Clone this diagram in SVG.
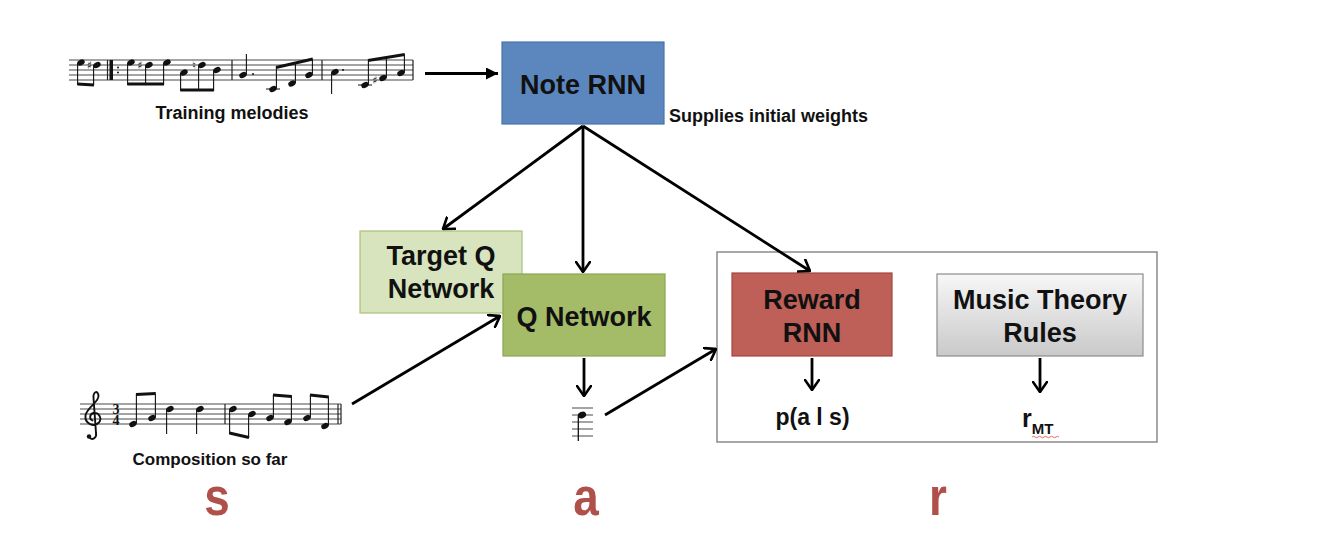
<svg xmlns="http://www.w3.org/2000/svg" width="1342" height="554" viewBox="0 0 1342 554">
  <defs>
    <style>
      .lbl { font-family: "Liberation Sans", Arial, sans-serif; font-weight: bold; fill: #111; }
      .node-text { font-size: 27px; text-anchor: middle; }
      .cap { font-size: 18px; }
      .big { font-family: "Liberation Sans", Arial, sans-serif; font-weight: bold; font-size: 54px; fill: #b0504a; text-anchor: middle; }
      .acc { font-family: "DejaVu Sans", sans-serif; font-size: 11px; text-anchor: middle; fill: #111; }
      .staff line { stroke: #333; stroke-width: 0.9; }
      .stem { stroke: #111; stroke-width: 1.1; }
      .beam { stroke: #111; stroke-width: 3; }
      .bar { stroke: #222; stroke-width: 1.2; }
      .conn { stroke: #000; stroke-width: 2.8; fill: none; marker-end: url(#chev); }
    </style>
    <marker id="chev" viewBox="0 0 12 16" refX="11" refY="8" markerWidth="12" markerHeight="16" markerUnits="userSpaceOnUse" orient="auto">
      <path d="M1,1 L11,8 L1,15" fill="none" stroke="#000" stroke-width="2.6" stroke-linecap="round" stroke-linejoin="miter"/>
    </marker>
    <marker id="tri" viewBox="0 0 12 12" refX="12" refY="6" markerWidth="12" markerHeight="12" markerUnits="userSpaceOnUse" orient="auto">
      <path d="M0,0 L12,6 L0,12 Z" fill="#000"/>
    </marker>
    <ellipse id="head" cx="0" cy="0" rx="3.9" ry="2.8" transform="rotate(-25)" fill="#111"/>
    <linearGradient id="grey" x1="0" y1="0" x2="0" y2="1">
      <stop offset="0" stop-color="#f7f7f7"/>
      <stop offset="1" stop-color="#c9c9c9"/>
    </linearGradient>
  </defs>

  <rect width="1342" height="554" fill="#fff"/>

  <!-- training melody excerpt -->
  <g id="training-melodies">
    <g class="staff">
      <line x1="69" y1="60" x2="413" y2="60"/>
      <line x1="69" y1="65" x2="413" y2="65"/>
      <line x1="69" y1="70" x2="413" y2="70"/>
      <line x1="69" y1="75" x2="413" y2="75"/>
      <line x1="69" y1="80" x2="413" y2="80"/>
    </g>
    <!-- pickup -->
    <use href="#head" x="81" y="62.5"/>
    <use href="#head" x="97" y="65"/>
    <text class="acc" x="89.5" y="68.5">♯</text>
    <line class="stem" x1="77.6" y1="63" x2="77.6" y2="85"/>
    <line class="stem" x1="93.6" y1="65.5" x2="93.6" y2="85"/>
    <line class="beam" x1="77.4" y1="84" x2="94" y2="85"/>
    <!-- repeat bar -->
    <line class="bar" x1="107.5" y1="60" x2="107.5" y2="80"/>
    <rect x="109.5" y="60" width="3.5" height="20" fill="#111"/>
    <circle cx="118" cy="67.5" r="1" fill="#111"/>
    <circle cx="118" cy="72.5" r="1" fill="#111"/>
    <!-- measure 1 -->
    <use href="#head" x="131" y="62.5"/>
    <use href="#head" x="149" y="65"/>
    <use href="#head" x="167" y="62.5"/>
    <text class="acc" x="140" y="68.5">♯</text>
    <line class="stem" x1="127.6" y1="63" x2="127.6" y2="85"/>
    <line class="stem" x1="145.6" y1="65.5" x2="145.6" y2="85"/>
    <line class="stem" x1="163.6" y1="63" x2="163.6" y2="85"/>
    <line class="beam" x1="127.4" y1="84" x2="164" y2="84"/>
    <use href="#head" x="184" y="72.5"/>
    <use href="#head" x="202" y="65"/>
    <use href="#head" x="217" y="70"/>
    <text class="acc" x="194" y="68.5">♮</text>
    <line class="stem" x1="180.6" y1="73" x2="180.6" y2="91"/>
    <line class="stem" x1="198.6" y1="65.5" x2="198.6" y2="91"/>
    <line class="stem" x1="213.6" y1="70.5" x2="213.6" y2="91"/>
    <line class="beam" x1="180.4" y1="90" x2="214" y2="90"/>
    <line class="bar" x1="232" y1="60" x2="232" y2="80"/>
    <!-- measure 2 -->
    <use href="#head" x="243" y="75"/>
    <line class="stem" x1="246.4" y1="74.5" x2="246.4" y2="54"/>
    <circle cx="253" cy="74" r="1" fill="#111"/>
    <line x1="266" y1="89" x2="280" y2="89" stroke="#111" stroke-width="1"/>
    <use href="#head" x="273" y="89"/>
    <use href="#head" x="292" y="83.5"/>
    <use href="#head" x="309" y="75"/>
    <line class="stem" x1="276.4" y1="88.5" x2="276.4" y2="67"/>
    <line class="stem" x1="295.4" y1="83" x2="295.4" y2="63"/>
    <line class="stem" x1="312.4" y1="74.5" x2="312.4" y2="59"/>
    <line class="beam" x1="276" y1="67.5" x2="312.8" y2="59"/>
    <line class="bar" x1="322" y1="60" x2="322" y2="80"/>
    <!-- measure 3 -->
    <use href="#head" x="335" y="72"/>
    <line class="stem" x1="331.6" y1="72.5" x2="331.6" y2="94"/>
    <circle cx="343" cy="70" r="1" fill="#111"/>
    <line x1="358" y1="85" x2="372" y2="85" stroke="#111" stroke-width="1"/>
    <use href="#head" x="365" y="85"/>
    <use href="#head" x="383" y="78"/>
    <use href="#head" x="401" y="73"/>
    <text class="acc" x="375" y="83.5">♯</text>
    <line class="stem" x1="368.4" y1="84.5" x2="368.4" y2="60"/>
    <line class="stem" x1="386.4" y1="77.5" x2="386.4" y2="57"/>
    <line class="stem" x1="404.4" y1="72.5" x2="404.4" y2="54.5"/>
    <line class="beam" x1="368" y1="60.5" x2="404.8" y2="54.5"/>
    <line class="bar" x1="413" y1="60" x2="413" y2="80"/>
    <text class="lbl cap" x="232" y="119" text-anchor="middle">Training melodies</text>
  </g>

  <!-- composition generated so far -->
  <g id="composition-so-far">
    <g class="staff">
      <line x1="80" y1="404" x2="341" y2="404"/>
      <line x1="80" y1="409" x2="341" y2="409"/>
      <line x1="80" y1="414" x2="341" y2="414"/>
      <line x1="80" y1="419" x2="341" y2="419"/>
      <line x1="80" y1="424" x2="341" y2="424"/>
    </g>
    <!-- treble clef -->
    <path d="M89,437 C92,441 97,438 96,433 L93.5,398 C93,392 97.5,389.5 98.5,395.5 C99.5,402 87,407 85.5,415.5 C84.5,424 94,427.5 99,422.5 C102.5,418 98.5,412 93.5,413 C89.5,414 89,419 92.5,420.5" fill="none" stroke="#111" stroke-width="1.9" stroke-linecap="round"/>
    <circle cx="89" cy="436.5" r="2.2" fill="#111"/>
    <!-- 3/4 time signature -->
    <text font-family="Liberation Serif, serif" font-weight="bold" font-size="14" text-anchor="middle" fill="#111"><tspan x="116" y="413.5">3</tspan><tspan x="116" y="424.5">4</tspan></text>
    <use href="#head" x="133" y="424"/>
    <use href="#head" x="152" y="418"/>
    <line class="stem" x1="136.4" y1="423.5" x2="136.4" y2="394"/>
    <line class="stem" x1="155.4" y1="417.5" x2="155.4" y2="394"/>
    <line class="beam" x1="136" y1="394.5" x2="155.8" y2="393.5"/>
    <use href="#head" x="170" y="409"/>
    <line class="stem" x1="166.6" y1="409.5" x2="166.6" y2="434"/>
    <use href="#head" x="200" y="409"/>
    <line class="stem" x1="196.6" y1="409.5" x2="196.6" y2="434"/>
    <line class="bar" x1="225" y1="404" x2="225" y2="424"/>
    <use href="#head" x="233" y="409"/>
    <use href="#head" x="252" y="414"/>
    <line class="stem" x1="229.6" y1="409.5" x2="229.6" y2="434"/>
    <line class="stem" x1="248.6" y1="414.5" x2="248.6" y2="438"/>
    <line class="beam" x1="229.4" y1="433" x2="249" y2="437.5"/>
    <use href="#head" x="270" y="418"/>
    <use href="#head" x="288" y="422"/>
    <line class="stem" x1="273.4" y1="417.5" x2="273.4" y2="395"/>
    <line class="stem" x1="291.4" y1="421.5" x2="291.4" y2="396"/>
    <line class="beam" x1="273" y1="395" x2="291.8" y2="396.5"/>
    <use href="#head" x="307" y="418"/>
    <use href="#head" x="325" y="426"/>
    <line class="stem" x1="310.4" y1="417.5" x2="310.4" y2="395"/>
    <line class="stem" x1="328.4" y1="425.5" x2="328.4" y2="397"/>
    <line class="beam" x1="310" y1="395" x2="328.8" y2="397"/>
    <line class="bar" x1="338" y1="404" x2="338" y2="424"/>
    <line class="bar" x1="341" y1="404" x2="341" y2="424"/>
    <text class="lbl" x="210" y="465" text-anchor="middle" font-size="17">Composition so far</text>
  </g>

  <!-- chosen action: a single note -->
  <g id="action-note">
    <g class="staff">
      <line x1="572" y1="408" x2="593" y2="408"/>
      <line x1="572" y1="415" x2="593" y2="415"/>
      <line x1="572" y1="422" x2="593" y2="422"/>
      <line x1="572" y1="429" x2="593" y2="429"/>
      <line x1="572" y1="436" x2="593" y2="436"/>
    </g>
    <ellipse cx="582" cy="415" rx="4.3" ry="3.2" transform="rotate(-25 582 415)" fill="#111"/>
    <line x1="578.3" y1="416" x2="578.3" y2="441" stroke="#111" stroke-width="1.3"/>
  </g>

  <g id="note-rnn">
    <rect x="502" y="42" width="162" height="82" fill="#5b86be" stroke="#4874aa" stroke-width="1.2"/>
    <text class="lbl node-text" x="583" y="94">Note RNN</text>
    <text class="lbl cap" x="669" y="121.5">Supplies initial weights</text>
  </g>

  <g id="target-q-network">
    <rect x="360" y="231" width="162" height="82" fill="#d7e4bd" stroke="#a9c27a" stroke-width="1.2"/>
    <text class="lbl node-text" x="441" y="265">Target Q</text>
    <text class="lbl node-text" x="441" y="298">Network</text>
  </g>

  <g id="q-network">
    <rect x="503" y="274" width="162" height="82" fill="#a4bc68" stroke="#8ca653" stroke-width="1.2"/>
    <text class="lbl node-text" x="584" y="326">Q Network</text>
  </g>

  <g id="reward-group">
    <rect x="717" y="252" width="440" height="190" fill="#fff" stroke="#8a8a8a" stroke-width="1.5"/>
  </g>

  <g id="reward-rnn">
    <rect x="732" y="273" width="160" height="83" fill="#be5f58" stroke="#a5463f" stroke-width="1.2"/>
    <text class="lbl node-text" x="812" y="309">Reward</text>
    <text class="lbl node-text" x="812" y="342">RNN</text>
    <text class="lbl" x="812.5" y="425" font-size="23" text-anchor="middle">p(a l s)</text>
  </g>

  <g id="music-theory-rules">
    <rect x="937" y="274" width="206" height="82" fill="url(#grey)" stroke="#8c8c8c" stroke-width="1.2"/>
    <text class="lbl node-text" x="1040" y="309">Music Theory</text>
    <text class="lbl node-text" x="1040" y="342">Rules</text>
    <text class="lbl" x="1022" y="427" font-size="25">r<tspan font-size="15" dy="7">MT</tspan></text>
    <path d="M1032,437 q1.5,-1.5 3,0 t3,0 t3,0 t3,0 t3,0 t3,0 t3,0 t3,0 t3,0" fill="none" stroke="#e05a4f" stroke-width="0.9"/>
  </g>

  <g id="labels-s-a-r">
    <text class="big" transform="translate(217 515) scale(0.85 1)">s</text>
    <text class="big" transform="translate(586 515) scale(0.85 1)">a</text>
    <text class="big" transform="translate(938 515) scale(0.85 1)">r</text>
  </g>

  <g id="connectors">
    <line x1="425" y1="73.5" x2="498" y2="73.5" stroke="#000" stroke-width="2.8" marker-end="url(#tri)"/>
    <line class="conn" x1="583" y1="126" x2="443" y2="229"/>
    <line class="conn" x1="583" y1="126" x2="583" y2="272"/>
    <line class="conn" x1="583" y1="126" x2="810" y2="271"/>
    <line class="conn" x1="352" y1="404" x2="500" y2="316"/>
    <line class="conn" x1="584" y1="358" x2="584" y2="396"/>
    <line class="conn" x1="605" y1="415" x2="716" y2="349"/>
    <line class="conn" x1="812" y1="358" x2="812" y2="390"/>
    <line class="conn" x1="1040" y1="358" x2="1040" y2="392"/>
  </g>
</svg>
